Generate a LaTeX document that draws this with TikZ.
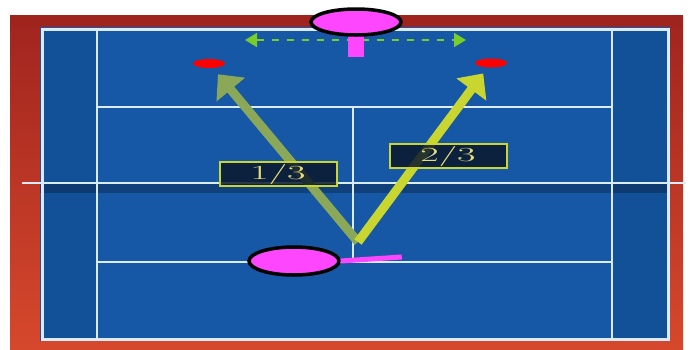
\documentclass[tikz,border=0pt]{standalone}
\usepackage{graphicx}
\usetikzlibrary{arrows.meta,shapes.geometric,positioning}
\definecolor{courtblue}{RGB}{22,88,165}
\definecolor{laneblue}{RGB}{18,80,152}
\definecolor{courtline}{RGB}{218,236,250}
\definecolor{frameTop}{RGB}{160,36,30}
\definecolor{frameBot}{RGB}{214,72,44}
\definecolor{playerpink}{RGB}{255,70,255}
\definecolor{shotyellow}{RGB}{202,214,48}
\definecolor{shotolive}{RGB}{138,168,88}
\definecolor{labelbg}{RGB}{10,24,44}
\definecolor{labeltext}{RGB}{232,222,120}
\definecolor{moveGreen}{RGB}{120,205,40}
\tikzset {
  >=Stealth,
  every node/.style={font=\small},
  courtlines/.style={courtline,line width=2.6pt},
  player/.style={ellipse,draw=black,line width=3.5pt,fill=playerpink,
    minimum width=90pt,minimum height=26pt,inner sep=0pt},
  ball/.style={ellipse,fill=red,minimum width=32pt,minimum height=9pt,inner sep=0pt},
  shot/.style={line width=9pt,-{Triangle[length=20pt,width=36pt]}},
  ratio/.style={draw=shotyellow,line width=2pt,fill=labelbg,fill opacity=.85,
    text opacity=1,text=labeltext,minimum width=117pt,minimum height=24pt,
    inner sep=0pt,font=\fontsize{20}{20}\selectfont},
  sidemove/.style={moveGreen,line width=1.8pt,dash pattern=on 7pt off 8pt,
    {Triangle[length=12pt,width=14pt]}-{Triangle[length=12pt,width=14pt]}},
}
\begin{document}
\begin{tikzpicture}[x=1pt,y=-1pt]
  \useasboundingbox (0,0) rectangle (691,349);
  \fill[white] (0,0) rectangle (691,349);
  \shade[top color=frameTop,bottom color=frameBot] (10,15) rectangle (683,349);
  \fill[frameTop] (10,15) rectangle (683,27);
  \fill[courtblue] (40,27) rectangle (670,341);
  \fill[laneblue] (42,29) rectangle (97,339);
  \fill[laneblue] (612,29) rectangle (668,339);
  \fill[black,opacity=.25] (40,184) rectangle (670,193);
  \draw[courtlines,line width=3pt] (42,29) rectangle (668,339);
  \draw[courtlines] (97,29) -- (97,339);
  \draw[courtlines] (612,29) -- (612,339);
  \draw[courtlines] (97,107) -- (612,107);
  \draw[courtlines] (97,262) -- (612,262);
  \draw[courtlines] (353,107) -- (353,262);
  \draw[courtlines,line width=2.8pt] (22,183) -- (686,183);

  \node[ball] (dotL) at (209,63.5) {};
  \node[ball] (dotR) at (491,63) {};
  \coordinate (hit) at (358,242);
  \draw[shot,shotolive,shorten >=14pt] (hit) -- (dotL.center);
  \draw[shot,shotyellow,shorten >=13pt] (hit) -- (dotR.center);

  \node[ratio] (lblA) at (278,174) {\scalebox{2}[1]{1/3}};
  \node[ratio] (lblB) at (448,156) {\scalebox{2}[1]{2/3}};

  \coordinate (moveL) at (245,40);
  \coordinate (moveR) at (466,40);
  \draw[sidemove] (moveL) -- (moveR);
  \fill[playerpink] (348,34) rectangle (364,57);
  \node[player] (far) at (356,22) {};

  \node[player,minimum height=28pt] (near) at (294,261) {};
  \draw[playerpink,line width=5pt] (near.east) -- ++(61,-4);
\end{tikzpicture}
\end{document}
